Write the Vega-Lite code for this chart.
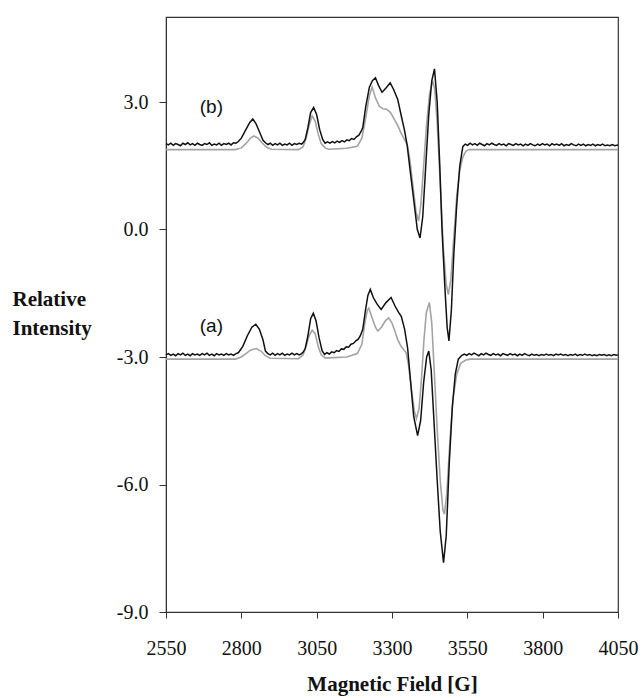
{
  "$schema": "https://vega.github.io/schema/vega-lite/v6.json",
  "autosize": "none",
  "width": 452,
  "height": 595,
  "padding": {"left": 166, "top": 17, "right": 24, "bottom": 86},
  "background": "white",
  "config": {
    "view": {"stroke": "#333333", "strokeWidth": 1.2},
    "axis": {"grid": false, "domainColor": "#333333", "tickColor": "#333333", "labelFont": "Liberation Serif", "labelFontSize": 20, "labelColor": "#111111", "titleFont": "Liberation Serif", "titleFontWeight": "bold", "titleFontSize": 21, "titleColor": "#111111"}
  },
  "datasets": {
    "bsim": [
      {"x":2550,"y":1.88},{"x":2780,"y":1.88},{"x":2800,"y":1.92},{"x":2815,"y":2.02},{"x":2830,"y":2.15},{"x":2842,"y":2.2},{"x":2855,"y":2.15},{"x":2870,"y":2.03},{"x":2885,"y":1.93},{"x":2900,"y":1.89},{"x":2990,"y":1.88},{"x":3005,"y":1.95},{"x":3015,"y":2.15},{"x":3025,"y":2.45},{"x":3035,"y":2.67},{"x":3045,"y":2.55},{"x":3055,"y":2.25},{"x":3065,"y":2.02},{"x":3078,"y":1.92},{"x":3090,"y":1.89},{"x":3150,"y":1.91},{"x":3185,"y":1.96},{"x":3200,"y":2.15},{"x":3212,"y":2.6},{"x":3225,"y":3.15},{"x":3234,"y":3.35},{"x":3245,"y":3.1},{"x":3258,"y":2.9},{"x":3270,"y":2.84},{"x":3282,"y":2.83},{"x":3295,"y":2.75},{"x":3308,"y":2.59},{"x":3320,"y":2.43},{"x":3330,"y":2.27},{"x":3343,"y":2.1},{"x":3352,"y":1.96},{"x":3360,"y":1.6},{"x":3370,"y":1.0},{"x":3380,"y":0.4},{"x":3388,"y":0.2},{"x":3396,"y":0.6},{"x":3405,"y":1.5},{"x":3415,"y":2.5},{"x":3425,"y":3.2},{"x":3435,"y":3.5},{"x":3442,"y":3.3},{"x":3450,"y":2.5},{"x":3460,"y":1.1},{"x":3470,"y":-0.4},{"x":3480,"y":-1.3},{"x":3487,"y":-1.53},{"x":3495,"y":-1.2},{"x":3505,"y":-0.2},{"x":3515,"y":0.8},{"x":3525,"y":1.4},{"x":3535,"y":1.7},{"x":3545,"y":1.84},{"x":3555,"y":1.88},{"x":4050,"y":1.88}
    ],
    "bexp": [
      {"x":2550,"y":2.02},{"x":2558,"y":1.99},{"x":2566,"y":2.03},{"x":2574,"y":1.98},{"x":2582,"y":2.02},{"x":2590,"y":2.0},{"x":2598,"y":1.97},{"x":2606,"y":2.03},{"x":2614,"y":2.0},{"x":2622,"y":2.04},{"x":2630,"y":1.99},{"x":2638,"y":2.02},{"x":2646,"y":1.98},{"x":2654,"y":2.03},{"x":2662,"y":2.0},{"x":2670,"y":1.98},{"x":2678,"y":2.02},{"x":2686,"y":2.0},{"x":2694,"y":2.04},{"x":2702,"y":1.98},{"x":2710,"y":2.01},{"x":2718,"y":1.99},{"x":2726,"y":2.03},{"x":2734,"y":1.98},{"x":2742,"y":2.02},{"x":2750,"y":2.0},{"x":2758,"y":2.03},{"x":2766,"y":1.99},{"x":2774,"y":2.04},{"x":2782,"y":2.03},{"x":2790,"y":2.07},
      {"x":2800,"y":2.15},{"x":2815,"y":2.35},{"x":2828,"y":2.52},{"x":2838,"y":2.6},{"x":2848,"y":2.5},{"x":2860,"y":2.3},{"x":2872,"y":2.1},
      {"x":2880,"y":2.04},{"x":2888,"y":2.0},{"x":2896,"y":2.03},{"x":2904,"y":1.98},{"x":2912,"y":2.02},{"x":2920,"y":1.99},{"x":2928,"y":2.03},{"x":2936,"y":1.98},{"x":2944,"y":2.01},{"x":2952,"y":1.99},{"x":2960,"y":2.03},{"x":2968,"y":1.98},{"x":2976,"y":2.02},{"x":2984,"y":2.0},{"x":2992,"y":2.03},{"x":3000,"y":2.01},{"x":3006,"y":2.05},
      {"x":3012,"y":2.12},{"x":3021,"y":2.4},{"x":3030,"y":2.75},{"x":3040,"y":2.87},{"x":3050,"y":2.7},{"x":3060,"y":2.35},{"x":3070,"y":2.12},
      {"x":3078,"y":2.03},{"x":3086,"y":2.06},{"x":3094,"y":2.03},{"x":3102,"y":2.07},{"x":3110,"y":2.04},{"x":3118,"y":2.08},{"x":3126,"y":2.05},{"x":3134,"y":2.09},{"x":3142,"y":2.06},{"x":3150,"y":2.11},{"x":3158,"y":2.09},{"x":3166,"y":2.14},{"x":3174,"y":2.12},{"x":3182,"y":2.18},{"x":3190,"y":2.22},
      {"x":3197,"y":2.3},{"x":3203,"y":2.4},{"x":3213,"y":2.9},{"x":3225,"y":3.35},{"x":3235,"y":3.5},{"x":3245,"y":3.57},{"x":3256,"y":3.38},{"x":3267,"y":3.23},{"x":3280,"y":3.33},{"x":3294,"y":3.45},{"x":3305,"y":3.3},{"x":3319,"y":3.06},{"x":3330,"y":2.7},{"x":3341,"y":2.35},{"x":3350,"y":2.0},{"x":3360,"y":1.4},{"x":3372,"y":0.7},{"x":3384,"y":0.0},{"x":3393,"y":-0.2},{"x":3402,"y":0.3},{"x":3412,"y":1.5},{"x":3422,"y":2.7},{"x":3432,"y":3.5},{"x":3441,"y":3.78},{"x":3450,"y":3.0},{"x":3458,"y":1.6},{"x":3466,"y":0.0},{"x":3475,"y":-1.3},{"x":3483,"y":-2.3},{"x":3489,"y":-2.62},{"x":3497,"y":-1.9},{"x":3505,"y":-0.6},{"x":3515,"y":0.6},{"x":3525,"y":1.5},{"x":3535,"y":1.95},
      {"x":3543,"y":2.01},{"x":3551,"y":1.98},{"x":3559,"y":2.03},{"x":3567,"y":1.99},{"x":3575,"y":2.02},{"x":3583,"y":1.98},{"x":3591,"y":2.03},{"x":3599,"y":2.0},{"x":3607,"y":1.97},{"x":3615,"y":2.02},{"x":3623,"y":1.99},{"x":3631,"y":2.03},{"x":3639,"y":2.0},{"x":3647,"y":1.98},{"x":3655,"y":2.02},{"x":3663,"y":1.99},{"x":3671,"y":2.01},{"x":3679,"y":1.97},{"x":3687,"y":2.02},{"x":3695,"y":2.0},{"x":3703,"y":1.98},{"x":3711,"y":2.02},{"x":3719,"y":1.99},{"x":3727,"y":2.01},{"x":3735,"y":1.97},{"x":3743,"y":2.01},{"x":3751,"y":1.98},{"x":3759,"y":2.02},{"x":3767,"y":1.99},{"x":3775,"y":1.97},{"x":3783,"y":2.01},{"x":3791,"y":1.98},{"x":3799,"y":2.02},{"x":3807,"y":1.99},{"x":3815,"y":2.01},{"x":3823,"y":1.97},{"x":3831,"y":2.02},{"x":3839,"y":1.99},{"x":3847,"y":2.01},{"x":3855,"y":1.98},{"x":3863,"y":2.02},{"x":3871,"y":1.97},{"x":3879,"y":2.0},{"x":3887,"y":1.98},{"x":3895,"y":2.02},{"x":3903,"y":1.99},{"x":3911,"y":1.97},{"x":3919,"y":2.01},{"x":3927,"y":1.98},{"x":3935,"y":2.01},{"x":3943,"y":1.97},{"x":3951,"y":2.0},{"x":3959,"y":1.98},{"x":3967,"y":2.01},{"x":3975,"y":1.97},{"x":3983,"y":2.0},{"x":3991,"y":1.98},{"x":3999,"y":2.01},{"x":4007,"y":1.97},{"x":4015,"y":1.99},{"x":4023,"y":1.97},{"x":4031,"y":2.0},{"x":4039,"y":1.97},{"x":4050,"y":1.99}
    ],
    "asim": [
      {"x":2550,"y":-3.05},{"x":2780,"y":-3.05},{"x":2800,"y":-3.0},{"x":2815,"y":-2.92},{"x":2830,"y":-2.84},{"x":2849,"y":-2.8},{"x":2865,"y":-2.86},{"x":2880,"y":-2.97},{"x":2895,"y":-3.03},{"x":2990,"y":-3.04},{"x":3005,"y":-2.95},{"x":3015,"y":-2.75},{"x":3025,"y":-2.5},{"x":3035,"y":-2.37},{"x":3045,"y":-2.45},{"x":3055,"y":-2.75},{"x":3065,"y":-2.95},{"x":3078,"y":-3.02},{"x":3090,"y":-3.02},{"x":3150,"y":-3.0},{"x":3185,"y":-2.92},{"x":3200,"y":-2.7},{"x":3210,"y":-2.2},{"x":3218,"y":-1.9},{"x":3223,"y":-1.85},{"x":3235,"y":-2.1},{"x":3245,"y":-2.3},{"x":3253,"y":-2.39},{"x":3265,"y":-2.3},{"x":3278,"y":-2.15},{"x":3289,"y":-2.08},{"x":3300,"y":-2.2},{"x":3310,"y":-2.4},{"x":3319,"y":-2.59},{"x":3330,"y":-2.75},{"x":3347,"y":-2.9},{"x":3355,"y":-3.2},{"x":3365,"y":-3.8},{"x":3375,"y":-4.3},{"x":3381,"y":-4.45},{"x":3390,"y":-4.2},{"x":3398,"y":-3.5},{"x":3406,"y":-2.6},{"x":3414,"y":-1.95},{"x":3424,"y":-1.72},{"x":3432,"y":-2.2},{"x":3440,"y":-3.3},{"x":3450,"y":-4.7},{"x":3460,"y":-5.9},{"x":3469,"y":-6.6},{"x":3474,"y":-6.7},{"x":3482,"y":-6.2},{"x":3492,"y":-5.0},{"x":3502,"y":-4.0},{"x":3515,"y":-3.4},{"x":3528,"y":-3.15},{"x":3545,"y":-3.07},{"x":3560,"y":-3.05},{"x":4050,"y":-3.05}
    ],
    "aexp": [
      {"x":2550,"y":-2.95},{"x":2558,"y":-2.92},{"x":2566,"y":-2.96},{"x":2574,"y":-2.93},{"x":2582,"y":-2.97},{"x":2590,"y":-2.92},{"x":2598,"y":-2.95},{"x":2606,"y":-2.91},{"x":2614,"y":-2.96},{"x":2622,"y":-2.93},{"x":2630,"y":-2.97},{"x":2638,"y":-2.92},{"x":2646,"y":-2.95},{"x":2654,"y":-2.93},{"x":2662,"y":-2.96},{"x":2670,"y":-2.92},{"x":2678,"y":-2.95},{"x":2686,"y":-2.91},{"x":2694,"y":-2.96},{"x":2702,"y":-2.93},{"x":2710,"y":-2.97},{"x":2718,"y":-2.92},{"x":2726,"y":-2.95},{"x":2734,"y":-2.93},{"x":2742,"y":-2.96},{"x":2750,"y":-2.92},{"x":2758,"y":-2.95},{"x":2766,"y":-2.93},{"x":2774,"y":-2.96},{"x":2782,"y":-2.92},{"x":2790,"y":-2.9},
      {"x":2805,"y":-2.75},{"x":2820,"y":-2.5},{"x":2835,"y":-2.3},{"x":2848,"y":-2.23},{"x":2860,"y":-2.35},{"x":2872,"y":-2.6},
      {"x":2880,"y":-2.86},{"x":2888,"y":-2.92},{"x":2896,"y":-2.95},{"x":2904,"y":-2.91},{"x":2912,"y":-2.96},{"x":2920,"y":-2.92},{"x":2928,"y":-2.95},{"x":2936,"y":-2.91},{"x":2944,"y":-2.96},{"x":2952,"y":-2.93},{"x":2960,"y":-2.95},{"x":2968,"y":-2.91},{"x":2976,"y":-2.95},{"x":2984,"y":-2.92},{"x":2992,"y":-2.95},{"x":3000,"y":-2.92},{"x":3006,"y":-2.88},
      {"x":3012,"y":-2.8},{"x":3021,"y":-2.5},{"x":3030,"y":-2.1},{"x":3039,"y":-1.97},{"x":3048,"y":-2.15},{"x":3058,"y":-2.55},{"x":3068,"y":-2.85},
      {"x":3076,"y":-2.94},{"x":3084,"y":-2.9},{"x":3092,"y":-2.93},{"x":3100,"y":-2.88},{"x":3108,"y":-2.9},{"x":3116,"y":-2.85},{"x":3124,"y":-2.87},{"x":3132,"y":-2.81},{"x":3140,"y":-2.82},{"x":3148,"y":-2.76},{"x":3156,"y":-2.77},{"x":3164,"y":-2.7},{"x":3172,"y":-2.68},{"x":3180,"y":-2.62},{"x":3188,"y":-2.58},
      {"x":3195,"y":-2.5},{"x":3203,"y":-2.35},{"x":3212,"y":-1.9},{"x":3220,"y":-1.55},{"x":3228,"y":-1.41},{"x":3238,"y":-1.6},{"x":3250,"y":-1.75},{"x":3264,"y":-1.88},{"x":3280,"y":-1.72},{"x":3297,"y":-1.6},{"x":3310,"y":-1.8},{"x":3322,"y":-1.95},{"x":3331,"y":-2.05},{"x":3342,"y":-2.35},{"x":3352,"y":-2.8},{"x":3362,"y":-3.6},{"x":3372,"y":-4.4},{"x":3385,"y":-4.85},{"x":3395,"y":-4.5},{"x":3405,"y":-3.6},{"x":3415,"y":-3.0},{"x":3422,"y":-2.86},{"x":3430,"y":-3.3},{"x":3440,"y":-4.6},{"x":3450,"y":-5.9},{"x":3460,"y":-7.1},{"x":3471,"y":-7.84},{"x":3480,"y":-7.2},{"x":3490,"y":-5.5},{"x":3500,"y":-4.2},{"x":3510,"y":-3.4},{"x":3520,"y":-3.05},{"x":3532,"y":-2.96},
      {"x":3540,"y":-2.93},{"x":3548,"y":-2.96},{"x":3556,"y":-2.92},{"x":3564,"y":-2.95},{"x":3572,"y":-2.91},{"x":3580,"y":-2.94},{"x":3588,"y":-2.97},{"x":3596,"y":-2.92},{"x":3604,"y":-2.95},{"x":3612,"y":-2.91},{"x":3620,"y":-2.94},{"x":3628,"y":-2.96},{"x":3636,"y":-2.92},{"x":3644,"y":-2.95},{"x":3652,"y":-2.93},{"x":3660,"y":-2.97},{"x":3668,"y":-2.92},{"x":3676,"y":-2.94},{"x":3684,"y":-2.96},{"x":3692,"y":-2.92},{"x":3700,"y":-2.95},{"x":3708,"y":-2.93},{"x":3716,"y":-2.97},{"x":3724,"y":-2.93},{"x":3732,"y":-2.96},{"x":3740,"y":-2.92},{"x":3748,"y":-2.95},{"x":3756,"y":-2.97},{"x":3764,"y":-2.93},{"x":3772,"y":-2.96},{"x":3780,"y":-2.94},{"x":3788,"y":-2.97},{"x":3796,"y":-2.94},{"x":3804,"y":-2.96},{"x":3812,"y":-2.93},{"x":3820,"y":-2.96},{"x":3828,"y":-2.94},{"x":3836,"y":-2.97},{"x":3844,"y":-2.93},{"x":3852,"y":-2.95},{"x":3860,"y":-2.93},{"x":3868,"y":-2.96},{"x":3876,"y":-2.94},{"x":3884,"y":-2.97},{"x":3892,"y":-2.94},{"x":3900,"y":-2.96},{"x":3908,"y":-2.93},{"x":3916,"y":-2.97},{"x":3924,"y":-2.94},{"x":3932,"y":-2.96},{"x":3940,"y":-2.93},{"x":3948,"y":-2.96},{"x":3956,"y":-2.94},{"x":3964,"y":-2.97},{"x":3972,"y":-2.95},{"x":3980,"y":-2.97},{"x":3988,"y":-2.94},{"x":3996,"y":-2.96},{"x":4004,"y":-2.94},{"x":4012,"y":-2.97},{"x":4020,"y":-2.95},{"x":4028,"y":-2.97},{"x":4036,"y":-2.94},{"x":4044,"y":-2.96},{"x":4050,"y":-2.95}
    ],
    "labels": [
      {"x":2662,"y":2.88,"t":"(b)"},
      {"x":2662,"y":-2.28,"t":"(a)"}
    ]
  },
  "encoding": {
    "x": {"field": "x", "type": "quantitative", "scale": {"domain": [2550, 4050], "nice": false, "zero": false},
      "axis": {"title": "Magnetic Field [G]", "values": [2550, 2800, 3050, 3300, 3550, 3800, 4050], "format": "d", "tickSize": 6, "labelPadding": 20, "titleBaseline": "alphabetic", "titleY": 78, "labelFlush": false}},
    "y": {"field": "y", "type": "quantitative", "scale": {"domain": [-9, 5], "nice": false, "zero": false},
      "axis": {"title": ["Relative", "Intensity"], "values": [-9, -6, -3, 0, 3], "labelExpr": "replace(format(datum.value, '.1f'), '\u2212', '-')", "tickSize": 7, "labelPadding": 11, "titleAngle": 0, "titleAlign": "left", "titleBaseline": "alphabetic", "titleX": -154, "titleY": 288, "titleLineHeight": 29, "labelFlush": false}}
  },
  "layer": [
    {"data": {"name": "bsim"}, "mark": {"type": "line", "color": "#a3a3a3", "strokeWidth": 1.6}},
    {"data": {"name": "asim"}, "mark": {"type": "line", "color": "#a3a3a3", "strokeWidth": 1.6}},
    {"data": {"name": "bexp"}, "mark": {"type": "line", "color": "#111111", "strokeWidth": 1.5}},
    {"data": {"name": "aexp"}, "mark": {"type": "line", "color": "#111111", "strokeWidth": 1.5}},
    {"data": {"name": "labels"}, "mark": {"type": "text", "font": "Liberation Sans", "fontSize": 19, "color": "#111111", "align": "left", "baseline": "middle"}, "encoding": {"text": {"field": "t"}}}
  ]
}
